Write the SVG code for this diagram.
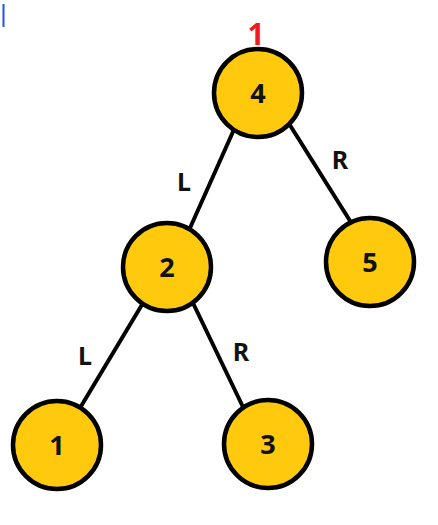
<svg xmlns="http://www.w3.org/2000/svg" width="438" height="525" viewBox="0 0 438 525">
<style>
.node circle{fill:#FFC90E;stroke:#000;stroke-width:4.5}
.node text,.lbl{font-family:"Noto Sans","DejaVu Sans",sans-serif;font-weight:bold;text-anchor:middle;fill:#111}
.node text{font-size:27px}
.lbl{font-size:25px}
#edges line{stroke:#000;stroke-width:4}
</style>
<rect width="438" height="525" fill="#fff"/>
<line x1="3.5" y1="4" x2="3.5" y2="27" stroke="#1f55e0" stroke-width="2"/>
<g id="edges">
<line x1="236" y1="125" x2="190" y2="228"/>
<line x1="288" y1="122" x2="352" y2="224"/>
<line x1="143" y1="303" x2="80" y2="408"/>
<line x1="193" y1="303" x2="243" y2="407"/>
<text class="lbl" x="184" y="191">L</text>
<text class="lbl" x="340" y="169">R</text>
<text class="lbl" x="85" y="365">L</text>
<text class="lbl" x="241" y="361">R</text>
</g>
<text x="256" y="45" font-family="Noto Sans, DejaVu Sans, sans-serif" font-weight="bold" font-size="30" fill="#ED1C24" text-anchor="middle">1</text>
<g id="n4" class="node"><circle cx="258" cy="93" r="44"/><text x="258" y="103">4</text></g>
<g id="n2" class="node"><circle cx="167" cy="267" r="44"/><text x="167" y="277">2</text></g>
<g id="n5" class="node"><circle cx="370" cy="262" r="44"/><text x="370" y="272">5</text></g>
<g id="n1" class="node"><circle cx="57" cy="445" r="44"/><text x="57" y="455">1</text></g>
<g id="n3" class="node"><circle cx="268" cy="444" r="44"/><text x="268" y="454">3</text></g>
</svg>
